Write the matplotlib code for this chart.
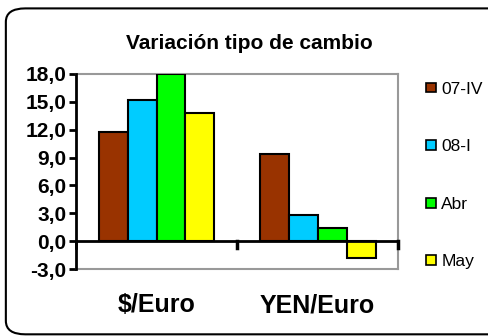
import matplotlib
matplotlib.use("Agg")
import matplotlib.pyplot as plt
import numpy as np
from matplotlib.patches import FancyBboxPatch, Patch

categories = ["$/Euro", "YEN/Euro"]
series = ["07-IV", "08-I", "Abr", "May"]
values = {
    "07-IV": [11.75, 9.4],
    "08-I": [15.2, 2.8],
    "Abr": [18.0, 1.4],
    "May": [13.8, -1.8],
}
colors = ["#993300", "#00CCFF", "#00FF00", "#FFFF00"]
yticks = [-3, 0, 3, 6, 9, 12, 15, 18]
ytick_labels = ["-3,0", "0,0", "3,0", "6,0", "9,0", "12,0", "15,0", "18,0"]

plt.rcParams['font.family'] = ['Liberation Sans', 'DejaVu Sans']

fig = plt.figure(figsize=(4.88, 3.36), dpi=100)
fig.patch.set_facecolor("white")
frame = FancyBboxPatch((0.012, 0.005), 1.05, 0.97, boxstyle="round,pad=0,rounding_size=0.04",
                       transform=fig.transFigure, facecolor="white", edgecolor="black",
                       linewidth=1.5, zorder=-1)
fig.patches.append(frame)

ax = fig.add_axes([0.1557, 0.1994, 0.66, 0.5804])
ax.set_facecolor("none")
x = np.arange(len(categories))
w = 0.18
for i, s in enumerate(series):
    ax.bar(x + (i - 1.5) * w, values[s], width=w, color=colors[i], edgecolor="black",
           linewidth=1.5, zorder=3, label=s)

ax.set_xlim(-0.5, len(categories) - 0.5)
ax.set_ylim(-3, 18)
ax.set_yticks(yticks)
ax.set_yticklabels(ytick_labels, fontsize=15, fontweight="bold")
ax.set_xticks([])
ax.tick_params(axis="y", direction="out", length=5, width=2, pad=2)
ax.axhline(0, color="black", linewidth=2, zorder=4)
for b in np.arange(0.5, len(categories), 1.0):
    ax.plot([b, b], [0, -0.7], color="black", linewidth=2.5, zorder=4, clip_on=False)
ax.plot([-0.5, -0.5], [0, -0.7], color="black", linewidth=2, zorder=4, clip_on=False)

for sp in ["top", "right", "bottom"]:
    ax.spines[sp].set_color("#999999")
    ax.spines[sp].set_linewidth(1.5)
ax.spines["left"].set_color("black")
ax.spines["left"].set_linewidth(2)
ax.spines["left"].set_zorder(5)

for xi, c in zip(x, categories):
    ax.text(xi, -6.9, c, ha="center", va="center", fontsize=18, fontweight="bold",
            transform=ax.transData)

fig.text(0.51, 0.872, "Variación tipo de cambio", ha="center", va="center",
         fontsize=15, fontweight="bold")

handles = [Patch(facecolor=colors[i], edgecolor="black", linewidth=1.2, label=s)
           for i, s in enumerate(series)]
fig.legend(handles=handles, loc="upper left", bbox_to_anchor=(0.872, 0.757),
           frameon=False, fontsize=12.5, handlelength=0.6, handleheight=0.5,
           handletextpad=0.3, labelspacing=2.45, borderaxespad=0, borderpad=0)

fig.savefig("out.png", dpi=100)
